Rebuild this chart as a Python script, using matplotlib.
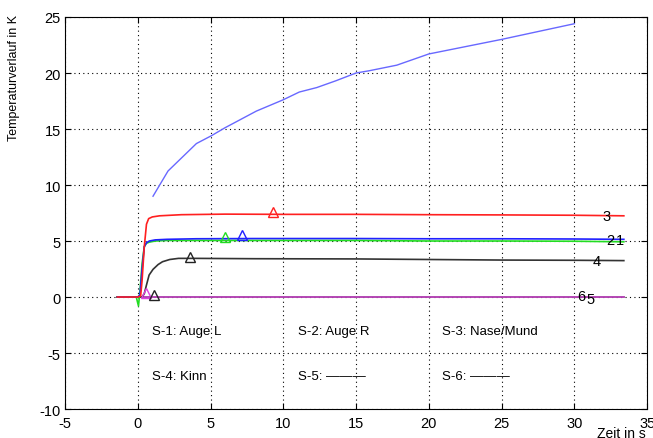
import matplotlib
matplotlib.use("Agg")
import matplotlib.pyplot as plt

plt.rcParams["font.family"] = ["Liberation Sans", "DejaVu Sans"]
plt.rcParams["axes.unicode_minus"] = False

# --- data ---
t_red = [-1.4, 0.0, 0.2, 0.3, 0.45, 0.6, 0.75, 1.0, 1.5, 3.0, 6, 10, 15, 20, 25, 30, 33.4]
y_red = [0, 0, 0.1, 1.5, 4.5, 6.5, 7.0, 7.15, 7.25, 7.35, 7.4, 7.38, 7.38, 7.35, 7.33, 7.3, 7.25]

t_s1 = [-1.4, 0, 0.15, 0.3, 0.45, 0.6, 0.8, 1.2, 2, 4, 8, 15, 20, 25, 30, 33.4]
y_s1 = [0, 0, 0.2, 2.5, 4.5, 4.85, 5.0, 5.1, 5.15, 5.2, 5.22, 5.22, 5.2, 5.2, 5.18, 5.15]

t_s2 = [-1.4, -0.1, 0.05, 0.15, 0.3, 0.45, 0.6, 0.8, 1.2, 2, 4, 8, 15, 20, 25, 30, 33.4]
y_s2 = [0, 0, -0.8, 0.5, 3.0, 4.5, 4.8, 4.9, 5.0, 5.05, 5.05, 5.05, 5.05, 5.0, 5.0, 4.98, 4.93]

t_s4 = [-1.4, 0.3, 0.45, 0.6, 0.78, 1.05, 1.4, 1.7, 2.2, 2.8, 4, 8, 15, 20, 25, 30, 33.4]
y_s4 = [0, 0, 0.3, 1.07, 1.96, 2.47, 2.9, 3.15, 3.35, 3.45, 3.45, 3.42, 3.4, 3.35, 3.3, 3.28, 3.25]

t_s5 = [-1.4, 33.4]
y_s5 = [0, 0]
t_s6 = [-1.4, 33.4]
y_s6 = [0, 0]

t_rise = [1.05, 2.08, 4.03, 5.06, 5.98, 8.15, 9.98, 11.1, 12.3, 13.6, 15.0, 15.9, 17.8, 20, 25, 30]
y_rise = [9.0, 11.25, 13.7, 14.4, 15.1, 16.6, 17.6, 18.3, 18.7, 19.3, 20.0, 20.2, 20.7, 21.7, 23.0, 24.4]

# triangle markers (x, y)
mk_red = (9.28, 7.6)
mk_s1 = (7.18, 5.52)
mk_s2 = (5.97, 5.38)
mk_s4 = (3.61, 3.6)
mk_s6 = (0.6, 0.33)
mk_s5 = (1.12, 0.18)

end_labels = ["3", "2", "1", "4", "6", "5"]
end_x = [32.2, 32.5, 33.1, 31.55, 30.5, 31.1]
end_y = [7.26, 5.05, 5.05, 3.2, 0.1, -0.2]

legend_text = ["S-1: Auge L", "S-2: Auge R", "S-3: Nase/Mund",
               "S-4: Kinn", "S-5: ———", "S-6: ———"]
legend_x = [1.0, 11.0, 20.9, 1.0, 11.0, 20.9]
legend_y = [-3.05, -3.05, -3.05, -7.06, -7.06, -7.06]

fig = plt.figure(figsize=(6.53, 4.39), dpi=100)
ax = fig.add_axes([0.0995, 0.066, 0.8915, 0.893])

ax.plot(t_rise, y_rise, color="#6868ff", lw=1.0)
ax.plot(t_s5, y_s5, color="#444444", lw=1.2)
ax.plot(t_s6, y_s6, color="#e040e0", lw=1.2, alpha=0.8)
ax.plot(t_s4, y_s4, color="#333333", lw=1.2)
ax.plot(t_s2, y_s2, color="#22dd22", lw=1.2)
ax.plot(t_s1, y_s1, color="#2020ff", lw=1.2)
ax.plot(t_red, y_red, color="#ff2020", lw=1.2)

for (mx, my), c in [(mk_red, "#ff2020"), (mk_s1, "#2020ff"), (mk_s2, "#22dd22"),
                    (mk_s4, "#222222"), (mk_s6, "#e040e0"), (mk_s5, "#222222")]:
    ax.plot([mx], [my], marker="^", ms=6.5, mfc="none", mec=c, mew=1.0)

for s, x, y in zip(end_labels, end_x, end_y):
    ax.text(x, y, s, ha="center", va="center", fontsize=10.5, color="black")

for s, x, y in zip(legend_text, legend_x, legend_y):
    ax.text(x, y, s, ha="left", va="center", fontsize=9.5)

ax.set_xlim(-5, 35)
ax.set_ylim(-10, 25)
ax.set_xticks(range(-5, 36, 5))
ax.set_yticks(range(-10, 26, 5))
ax.grid(True, color="black", linestyle=(0, (1, 3)), linewidth=0.8)
ax.tick_params(direction="in", top=True, right=True, length=4, labelsize=10.5)
ax.tick_params(axis="x", pad=5)
ax.tick_params(axis="y", pad=3)
for sp in ax.spines.values():
    sp.set_linewidth(0.8)

fig.text(0.022, 1 - 78 / 439, "Temperaturverlauf in K", rotation=90,
         ha="center", va="center", fontsize=9)
fig.text(0.951, 0.012, "Zeit in s", ha="center", va="center", fontsize=10)

fig.savefig("out.png", dpi=100)
